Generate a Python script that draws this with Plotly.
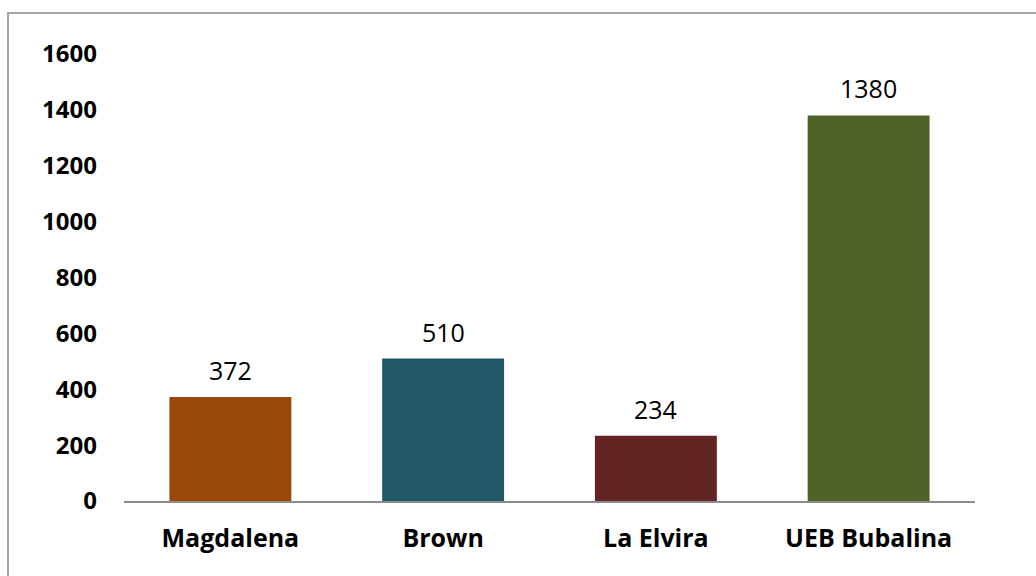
import plotly.graph_objects as go

# Chart data
categories = ["Magdalena", "Brown", "La Elvira", "UEB Bubalina"]
values = [372, 510, 234, 1380]
bar_colors = ["#984807", "#215968", "#632523", "#4F6228"]
y_ticks = [0, 200, 400, 600, 800, 1000, 1200, 1400, 1600]

W, H = 1036, 576
ML, MR, MT, MB = 124, 61, 54, 75

fig = go.Figure(
    go.Bar(
        x=categories,
        y=values,
        marker=dict(color=bar_colors, line=dict(width=0)),
        width=0.573,
        hoverinfo="x+y",
    )
)

# Value labels above each bar
for cat, val in zip(categories, values):
    fig.add_annotation(
        x=cat, y=val, text=str(val),
        xref="x", yref="y",
        yanchor="bottom", yshift=8,
        showarrow=False,
        font=dict(family="Open Sans", size=25, color="#000000"),
    )

fig.update_layout(
    width=W,
    height=H,
    margin=dict(l=ML, r=MR, t=MT, b=MB),
    paper_bgcolor="#ffffff",
    plot_bgcolor="#ffffff",
    showlegend=False,
    font=dict(family="Open Sans", color="#000000"),
    xaxis=dict(
        showline=True,
        linecolor="#8c8c8c",
        linewidth=2,
        ticks="",
        showgrid=False,
        tickfont=dict(family="Open Sans", size=25, color="#000000", weight="bold"),
        ticklabelstandoff=14,
    ),
    yaxis=dict(
        range=[0, 1600],
        tickvals=y_ticks,
        showline=False,
        showgrid=False,
        zeroline=False,
        ticks="",
        tickfont=dict(family="Open Sans", size=24, color="#000000", weight="bold"),
        ticklabelstandoff=26,
    ),
)

# Outer chart frame (runs past the right and bottom edges)
fig.add_shape(
    type="rect",
    xref="paper", yref="paper",
    x0=(8 - ML) / (W - ML - MR),
    x1=(1040 - ML) / (W - ML - MR),
    y0=-(580 - (H - MB)) / (H - MT - MB),
    y1=1 + (MT - 13) / (H - MT - MB),
    line=dict(color="#a6a6a6", width=2),
    layer="below",
)

fig.write_html("out.html")
